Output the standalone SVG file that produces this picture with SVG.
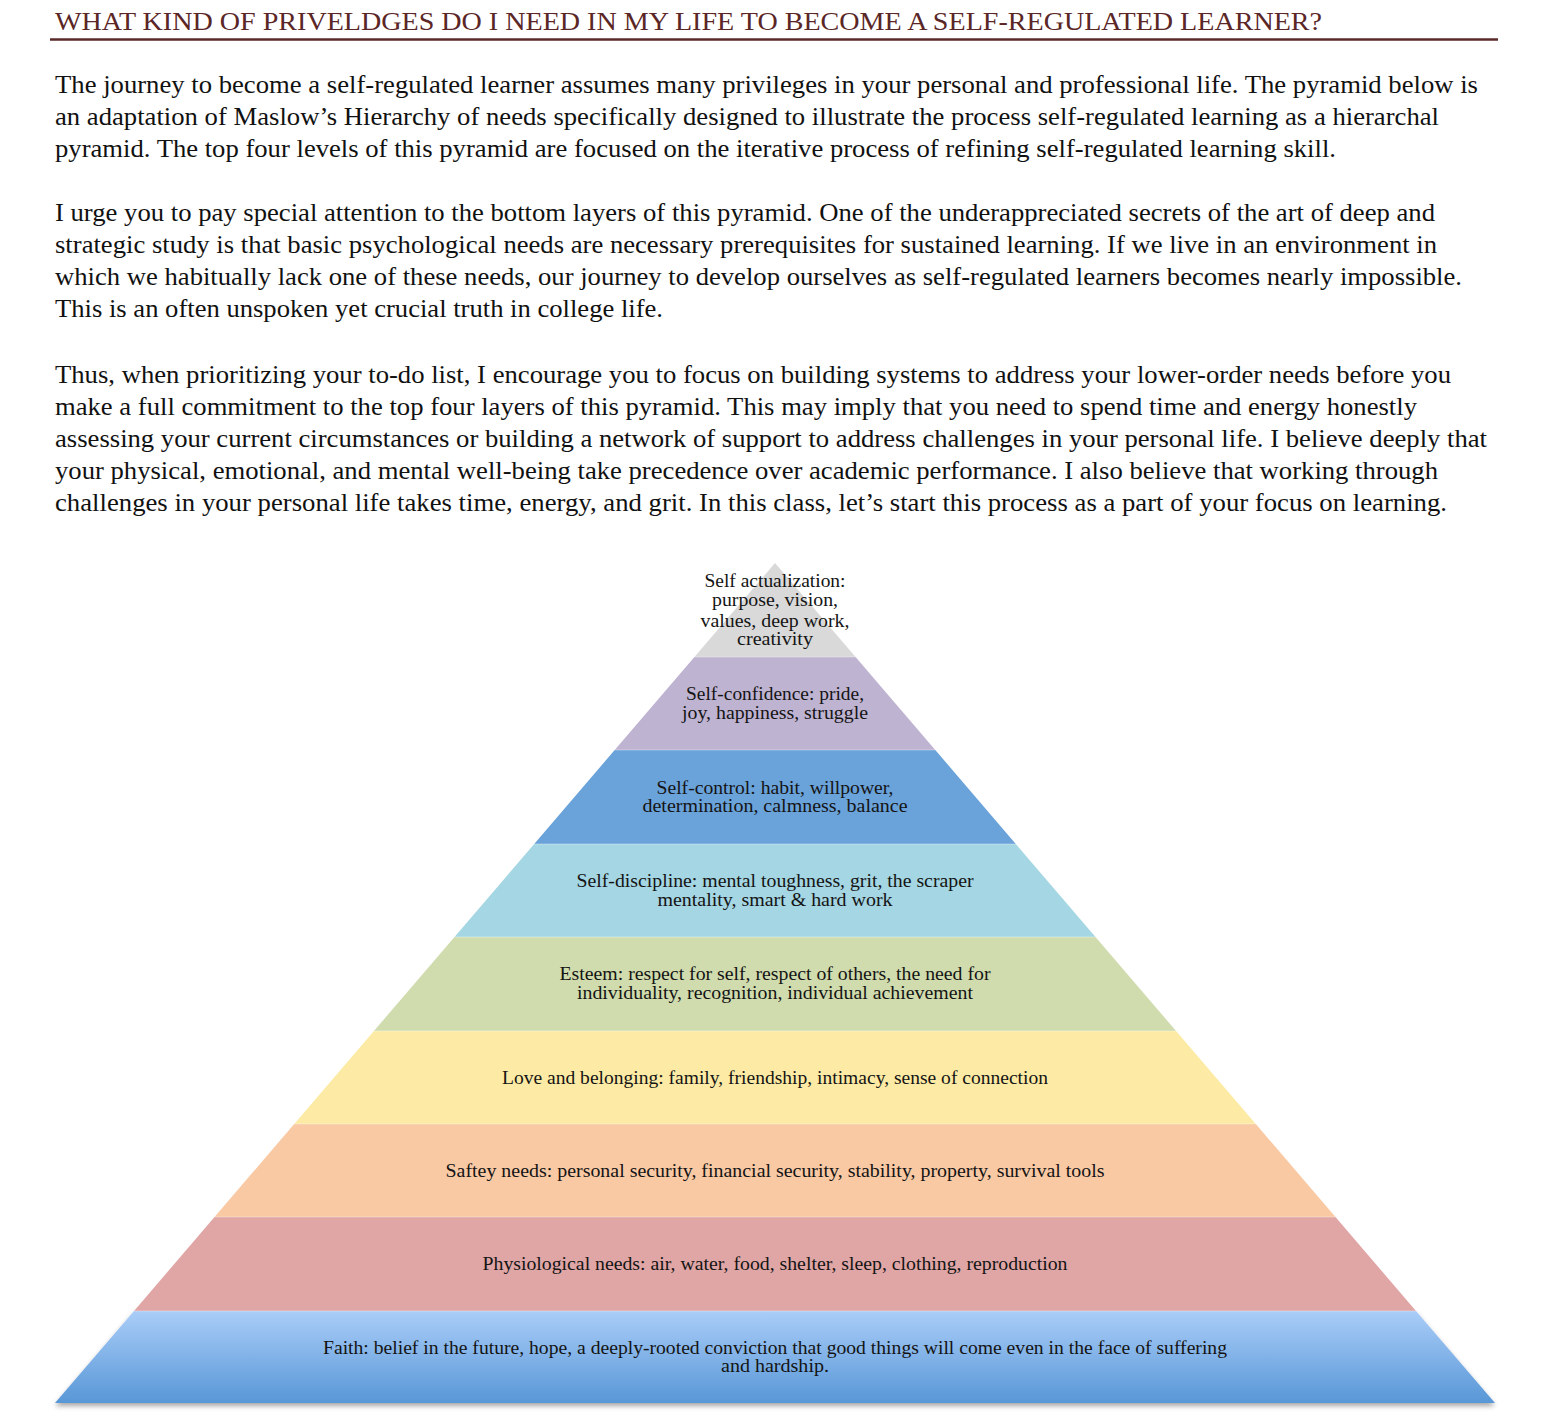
<svg xmlns="http://www.w3.org/2000/svg" width="1550" height="1418" viewBox="0 0 1550 1418">
<style>
.title{font-family:"Liberation Serif","Times New Roman",serif;font-size:26px;fill:#5a2626}
.body{font-family:"Liberation Serif","Times New Roman",serif;font-size:26px;fill:#111}
.lbl{font-family:"Liberation Serif","Times New Roman",serif;font-size:18px;fill:#141414;text-anchor:middle}
.sep{stroke:#ffffff;stroke-opacity:0.35;stroke-width:1.2}
</style>
<defs>
<linearGradient id="faithGrad" x1="0" y1="0" x2="0" y2="1">
<stop offset="0" stop-color="#aacdf8"/>
<stop offset="1" stop-color="#5897d7"/>
</linearGradient>
<filter id="shadow" x="-5%" y="-20%" width="110%" height="150%">
<feDropShadow dx="0" dy="3" stdDeviation="2.5" flood-color="#000" flood-opacity="0.35"/>
</filter>
</defs>
<rect width="1550" height="1418" fill="#ffffff"/>

<g id="heading">
<text class="title" x="55" y="30" textLength="1267" lengthAdjust="spacingAndGlyphs">WHAT KIND OF PRIVELDGES DO I NEED IN MY LIFE TO BECOME A SELF-REGULATED LEARNER?</text>
<line x1="50" y1="39.5" x2="1498" y2="39.5" stroke="#5a2a2a" stroke-width="2.5"/>
</g>

<g id="paragraphs">
<text class="body" x="55" y="93" textLength="1423" lengthAdjust="spacingAndGlyphs">The journey to become a self-regulated learner assumes many privileges in your personal and professional life. The pyramid below is</text>
<text class="body" x="55" y="125" textLength="1384" lengthAdjust="spacingAndGlyphs">an adaptation of Maslow’s Hierarchy of needs specifically designed to illustrate the process self-regulated learning as a hierarchal</text>
<text class="body" x="55" y="157" textLength="1281" lengthAdjust="spacingAndGlyphs">pyramid. The top four levels of this pyramid are focused on the iterative process of refining self-regulated learning skill.</text>

<text class="body" x="55" y="221" textLength="1380" lengthAdjust="spacingAndGlyphs">I urge you to pay special attention to the bottom layers of this pyramid. One of the underappreciated secrets of the art of deep and</text>
<text class="body" x="55" y="253" textLength="1382" lengthAdjust="spacingAndGlyphs">strategic study is that basic psychological needs are necessary prerequisites for sustained learning. If we live in an environment in</text>
<text class="body" x="55" y="285" textLength="1407" lengthAdjust="spacingAndGlyphs">which we habitually lack one of these needs, our journey to develop ourselves as self-regulated learners becomes nearly impossible.</text>
<text class="body" x="55" y="317" textLength="608" lengthAdjust="spacingAndGlyphs">This is an often unspoken yet crucial truth in college life.</text>

<text class="body" x="55" y="383" textLength="1396" lengthAdjust="spacingAndGlyphs">Thus, when prioritizing your to-do list, I encourage you to focus on building systems to address your lower-order needs before you</text>
<text class="body" x="55" y="415" textLength="1362" lengthAdjust="spacingAndGlyphs">make a full commitment to the top four layers of this pyramid. This may imply that you need to spend time and energy honestly</text>
<text class="body" x="55" y="447" textLength="1432" lengthAdjust="spacingAndGlyphs">assessing your current circumstances or building a network of support to address challenges in your personal life. I believe deeply that</text>
<text class="body" x="55" y="479" textLength="1383" lengthAdjust="spacingAndGlyphs">your physical, emotional, and mental well-being take precedence over academic performance. I also believe that working through</text>
<text class="body" x="55" y="511" textLength="1392" lengthAdjust="spacingAndGlyphs">challenges in your personal life takes time, energy, and grit. In this class, let’s start this process as a part of your focus on learning.</text>
</g>

<g id="pyramid">
<g id="level-faith">
<polygon points="134,1311 1416,1311 1495,1403 55,1403" fill="url(#faithGrad)" filter="url(#shadow)"/>
<text class="lbl" x="775" y="1354" textLength="904" lengthAdjust="spacingAndGlyphs">Faith: belief in the future, hope, a deeply-rooted conviction that good things will come even in the face of suffering</text>
<text class="lbl" x="775" y="1372" textLength="108" lengthAdjust="spacingAndGlyphs">and hardship.</text>
</g>
<g id="level-physiological">
<polygon points="214.5,1217 1335.5,1217 1416,1311 134,1311" fill="#e0a6a6"/>
<text class="lbl" x="775" y="1270" textLength="585" lengthAdjust="spacingAndGlyphs">Physiological needs: air, water, food, shelter, sleep, clothing, reproduction</text>
</g>
<g id="level-safety">
<polygon points="294.2,1124 1255.8,1124 1335.5,1217 214.5,1217" fill="#f9c9a4"/>
<text class="lbl" x="775" y="1177" textLength="659" lengthAdjust="spacingAndGlyphs">Saftey needs: personal security, financial security, stability, property, survival tools</text>
</g>
<g id="level-love">
<polygon points="373.9,1031 1176.1,1031 1255.8,1124 294.2,1124" fill="#fdeba5"/>
<text class="lbl" x="775" y="1084" textLength="546" lengthAdjust="spacingAndGlyphs">Love and belonging: family, friendship, intimacy, sense of connection</text>
</g>
<g id="level-esteem">
<polygon points="454.5,937 1095.5,937 1176.1,1031 373.9,1031" fill="#d0dcae"/>
<text class="lbl" x="775" y="980" textLength="431" lengthAdjust="spacingAndGlyphs">Esteem: respect for self, respect of others, the need for</text>
<text class="lbl" x="775" y="999" textLength="396" lengthAdjust="spacingAndGlyphs">individuality, recognition, individual achievement</text>
</g>
<g id="level-self-discipline">
<polygon points="534.2,844 1015.8,844 1095.5,937 454.5,937" fill="#a5d6e3"/>
<text class="lbl" x="775" y="887" textLength="397" lengthAdjust="spacingAndGlyphs">Self-discipline: mental toughness, grit, the scraper</text>
<text class="lbl" x="775" y="906" textLength="235" lengthAdjust="spacingAndGlyphs">mentality, smart &amp; hard work</text>
</g>
<g id="level-self-control">
<polygon points="614.7,750 935.3,750 1015.8,844 534.2,844" fill="#6aa2da"/>
<text class="lbl" x="775" y="794" textLength="237" lengthAdjust="spacingAndGlyphs">Self-control: habit, willpower,</text>
<text class="lbl" x="775" y="812" textLength="265" lengthAdjust="spacingAndGlyphs">determination, calmness, balance</text>
</g>
<g id="level-self-confidence">
<polygon points="694.4,657 855.6,657 935.3,750 614.7,750" fill="#bfb3d2"/>
<text class="lbl" x="775" y="700" textLength="178" lengthAdjust="spacingAndGlyphs">Self-confidence: pride,</text>
<text class="lbl" x="775" y="719" textLength="186" lengthAdjust="spacingAndGlyphs">joy, happiness, struggle</text>
</g>
<g id="level-self-actualization">
<polygon points="775,563 855.6,657 694.4,657" fill="#d9d9d9"/>
<text class="lbl" x="775" y="587" textLength="141" lengthAdjust="spacingAndGlyphs">Self actualization:</text>
<text class="lbl" x="775" y="606" textLength="126" lengthAdjust="spacingAndGlyphs">purpose, vision,</text>
<text class="lbl" x="775" y="627" textLength="149" lengthAdjust="spacingAndGlyphs">values, deep work,</text>
<text class="lbl" x="775" y="645" textLength="76" lengthAdjust="spacingAndGlyphs">creativity</text>
</g>
<g id="separators">
<line class="sep" x1="694.4" y1="657" x2="855.6" y2="657"/>
<line class="sep" x1="614.7" y1="750" x2="935.3" y2="750"/>
<line class="sep" x1="534.2" y1="844" x2="1015.8" y2="844"/>
<line class="sep" x1="454.5" y1="937" x2="1095.5" y2="937"/>
<line class="sep" x1="373.9" y1="1031" x2="1176.1" y2="1031"/>
<line class="sep" x1="294.2" y1="1124" x2="1255.8" y2="1124"/>
<line class="sep" x1="214.5" y1="1217" x2="1335.5" y2="1217"/>
<line class="sep" x1="134" y1="1311" x2="1416" y2="1311"/>
</g>
</g>
</svg>
